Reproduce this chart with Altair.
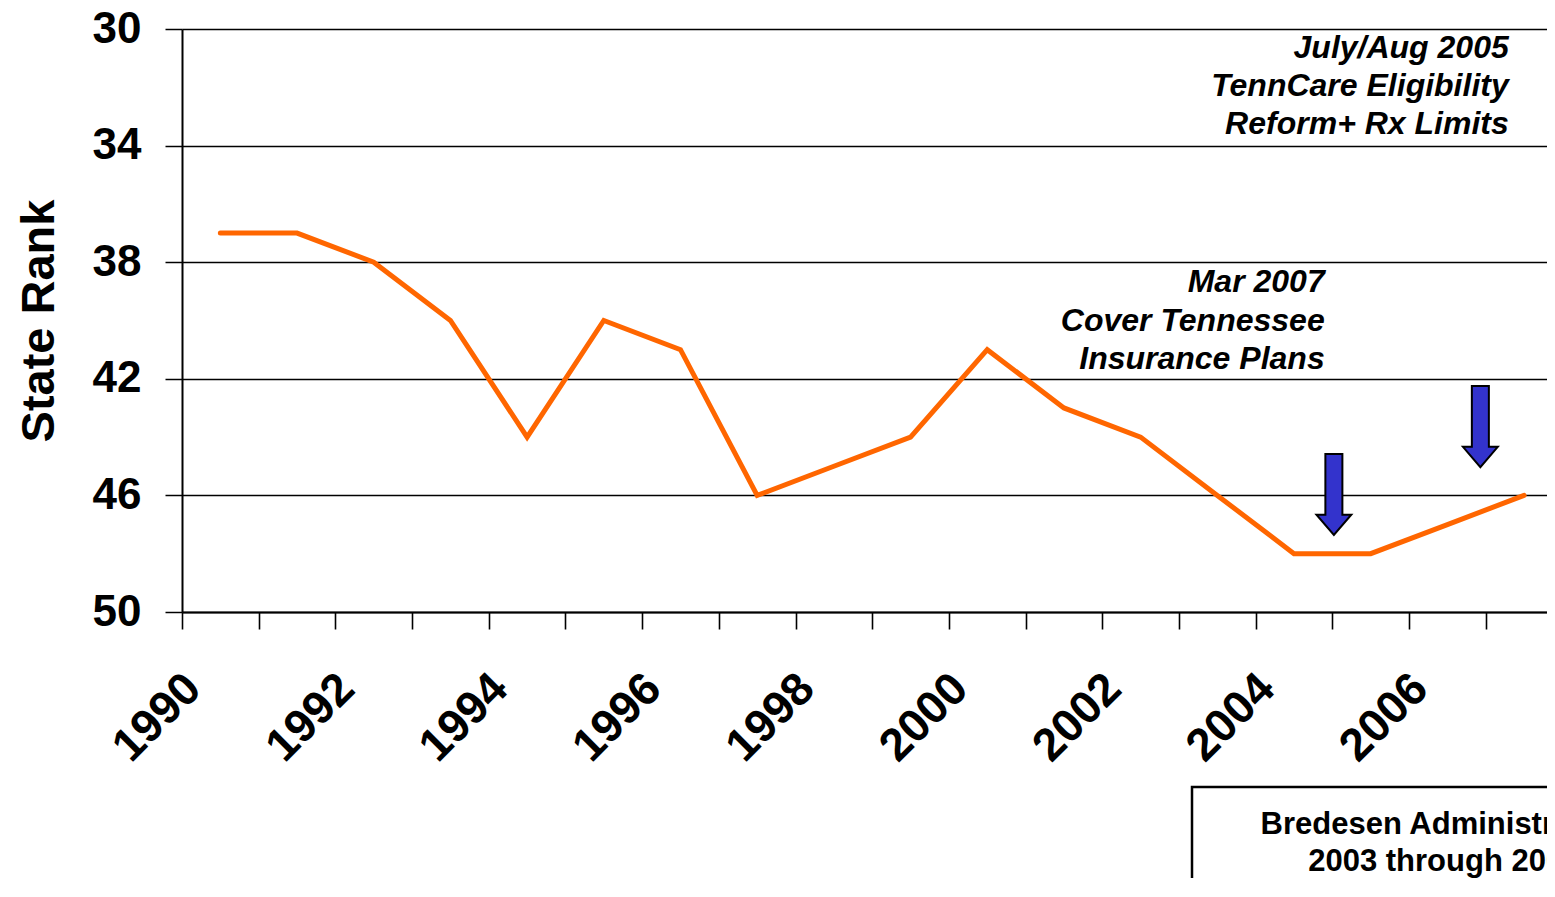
import altair as alt
import pandas as pd

# ---- data ----
years = list(range(1990, 2008))
ranks = [37, 37, 38, 40, 44, 40, 41, 46, 45, 44, 41, 43, 44, 46, 48, 48, 47, 46]
rank_ticks = [30, 34, 38, 42, 46, 50]

note1_lines = ["July/Aug 2005", "TennCare Eligibility", "Reform+ Rx Limits"]
note2_lines = ["Mar 2007", "Cover Tennessee", "Insurance Plans"]
box_lines = ["Bredesen Administration", "2003 through 2007"]

# annotation anchors, in data units (year, rank)
note1_x = 2006.80
note1_y = [30.65, 31.95, 33.26]
note2_x = 2004.40
note2_y = [38.68, 40.01, 41.32]
box_text_x = 2005.96
box_text_y = [57.30, 58.57]
box_x = [2002.67, 2012.0]
box_y = [56.0, 66.0]
arrow_x = [2004.52, 2006.43]
arrow_y = [45.97, 43.64]

FONT = "Liberation Sans"
BAND = 76.69  # px per year
PLOT_W = 1365

line_df = pd.DataFrame({"year": years, "rank": ranks})
notes_df = pd.DataFrame({
    "year": [note1_x] * 3 + [note2_x] * 3,
    "rank": note1_y + note2_y,
    "text": note1_lines + note2_lines,
})
box_text_df = pd.DataFrame({"year": [box_text_x] * 2, "rank": box_text_y, "text": box_lines})
box_df = pd.DataFrame({"year": [box_x[0]], "year2": [box_x[1]], "rank": [box_y[0]], "rank2": [box_y[1]]})
arrow_df = pd.DataFrame({"year": arrow_x, "rank": arrow_y})

x_scale = alt.Scale(domain=[1989.5, 1989.5 + PLOT_W / BAND], nice=False, zero=False)
y_scale = alt.Scale(domain=[30, 50], reverse=True, nice=False, zero=False)

x_axis = alt.Axis(
    values=years, format="d",
    labelExpr="datum.value % 2 == 0 ? datum.label : ''",
    tickOffset=-BAND / 2, labelOffset=11,
    labelAngle=-45, labelAlign="right", labelBaseline="middle", labelPadding=52,
    labelFont=FONT, labelFontSize=46, labelFontWeight="bold", labelColor="black",
    labelOverlap=False, labelFlush=False, labelBound=False,
    tickSize=17, tickColor="black", tickWidth=1.6,
    domainColor="black", domainWidth=2, grid=False, title=None,
)
y_axis = alt.Axis(
    values=rank_ticks, title="State Rank",
    labelFont=FONT, labelFontSize=44, labelFontWeight="bold", labelColor="black",
    labelPadding=24,
    tickSize=17, tickColor="black", tickWidth=1.5,
    domainColor="black", domainWidth=2,
    grid=True, gridColor="black", gridWidth=1.4,
    titleFont=FONT, titleFontSize=47, titleFontWeight="bold", titleColor="black",
    titlePadding=29,
)

X = alt.X("year:Q", scale=x_scale, axis=x_axis)
Y = alt.Y("rank:Q", scale=y_scale, axis=y_axis)

line = alt.Chart(line_df).mark_line(color="#FF6600", strokeWidth=5, strokeCap="round").encode(x=X, y=Y)

notes = alt.Chart(notes_df).mark_text(
    align="right", baseline="middle", font=FONT, fontSize=32,
    fontWeight="bold", fontStyle="italic", color="black",
).encode(x=X, y=Y, text="text:N")

ARROW = "M -0.21 -1 L 0.21 -1 L 0.21 0.5 L 0.43 0.5 L 0 1 L -0.43 0.5 L -0.21 0.5 Z"
arrows = alt.Chart(arrow_df).mark_point(
    shape=ARROW, size=6561, filled=True, fill="#3333CC", fillOpacity=1,
    stroke="black", strokeWidth=2, strokeOpacity=1, opacity=1,
).encode(x=X, y=Y)

box = alt.Chart(box_df).mark_rect(fill="white", fillOpacity=0, stroke="black", strokeWidth=2.5).encode(
    x=X, x2="year2:Q", y=Y, y2="rank2:Q"
)

box_text = alt.Chart(box_text_df).mark_text(
    align="center", baseline="middle", font=FONT, fontSize=31,
    fontWeight="bold", color="black",
).encode(x=X, y=Y, text="text:N")

chart = alt.layer(line, notes, arrows, box, box_text).properties(
    width=PLOT_W, height=583,
    autosize=alt.AutoSizeParams(type="none"),
    padding={"left": 174, "top": 21, "right": 0, "bottom": 266},
    background="white",
).configure_view(stroke=None)

chart.save("out.html", embed_options={"renderer": "svg", "actions": False})
